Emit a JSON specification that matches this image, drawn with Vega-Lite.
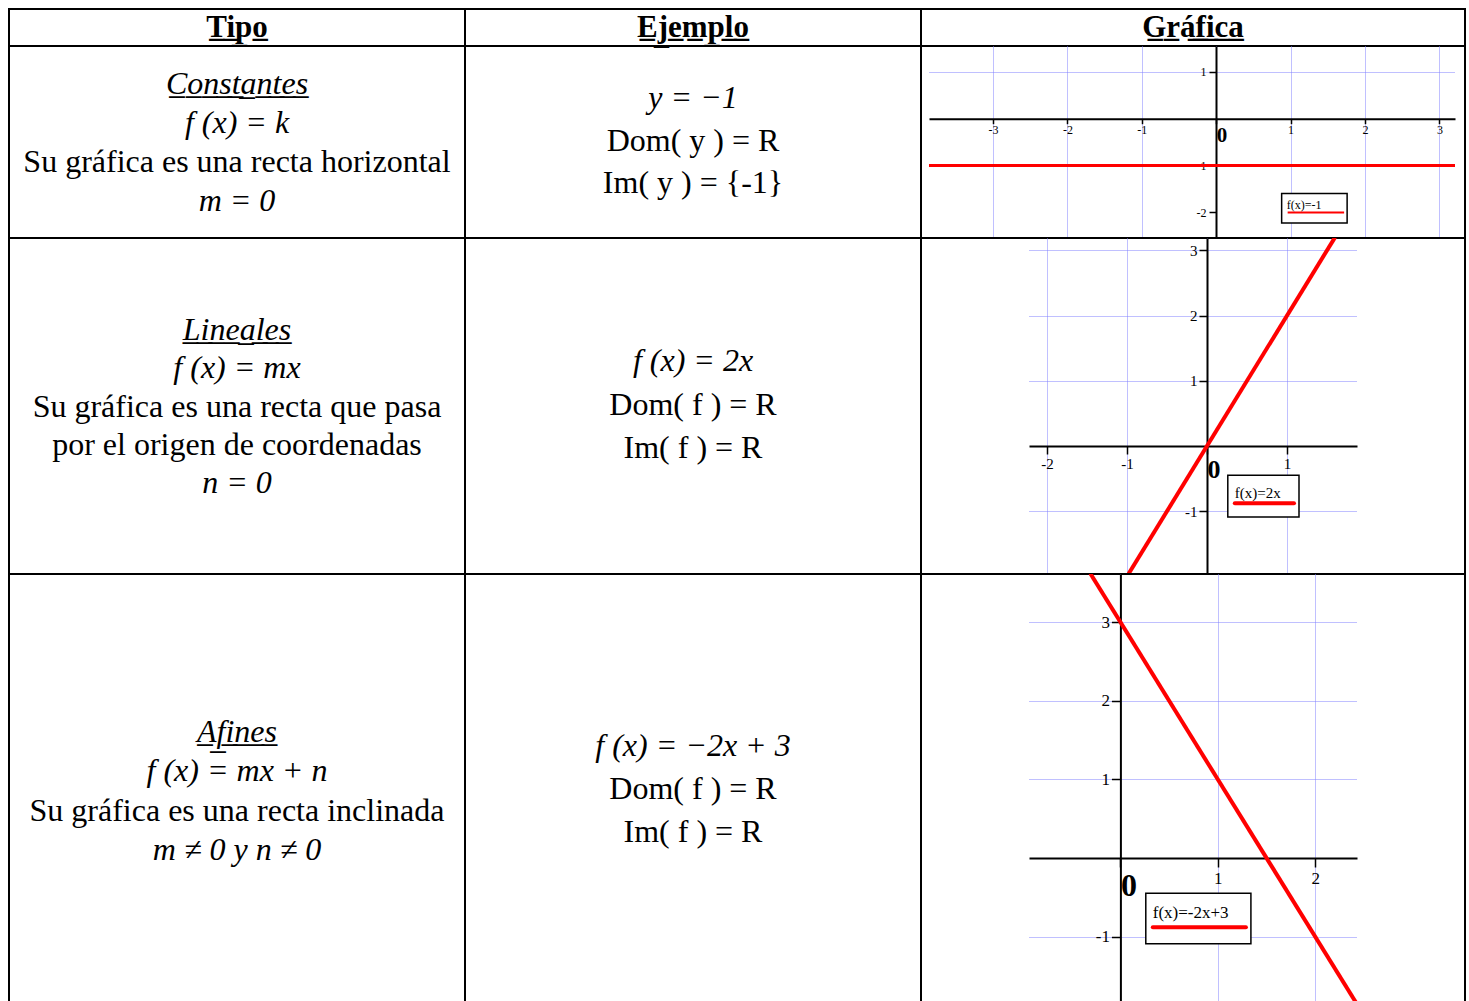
{
  "$schema": "https://vega.github.io/schema/vega-lite/v6.json",
  "background": "white",
  "padding": {"left": 8, "top": 8, "right": 0, "bottom": 0},
  "spacing": 0,
  "bounds": "flush",
  "align": "each",
  "columns": 3,
  "config": {"view": {"stroke": "black", "strokeWidth": 2}, "concat": {"spacing": 0}},
  "datasets": {
    "cells": [
      {"cell": "h1", "line": 0, "role": "title", "text": "T\u0332i\u0332p\u0332o\u0332"},
      {"cell": "h2", "line": 0, "role": "title", "text": "E\u0332j\u0332e\u0332m\u0332p\u0332l\u0332o\u0332"},
      {"cell": "h3", "line": 0, "role": "title", "text": "G\u0332r\u0332\u00e1\u0332f\u0332i\u0332c\u0332a\u0332"},
      {"cell": "r1c1", "line": 0, "role": "heading", "text": "C\u0332o\u0332n\u0332s\u0332t\u0332a\u0332n\u0332t\u0332e\u0332s\u0332"},
      {"cell": "r1c1", "line": 1, "role": "formula", "text": "f (x) = k"},
      {"cell": "r1c1", "line": 2, "role": "prose", "text": "Su gráfica es una recta horizontal"},
      {"cell": "r1c1", "line": 3, "role": "formula", "text": "m = 0"},
      {"cell": "r1c2", "line": 0, "role": "formula", "text": "y = −1"},
      {"cell": "r1c2", "line": 1, "role": "prose", "text": "Dom( y ) = R"},
      {"cell": "r1c2", "line": 2, "role": "prose", "text": "Im( y )  = {-1}"},
      {"cell": "r2c1", "line": 0, "role": "heading", "text": "L\u0332i\u0332n\u0332e\u0332a\u0332l\u0332e\u0332s\u0332"},
      {"cell": "r2c1", "line": 1, "role": "formula", "text": "f (x) = mx"},
      {"cell": "r2c1", "line": 2, "role": "prose", "text": "Su gráfica es una recta que pasa"},
      {"cell": "r2c1", "line": 3, "role": "prose", "text": "por el origen de coordenadas"},
      {"cell": "r2c1", "line": 4, "role": "formula", "text": "n = 0"},
      {"cell": "r2c2", "line": 0, "role": "formula", "text": "f (x) = 2x"},
      {"cell": "r2c2", "line": 1, "role": "prose", "text": "Dom( f ) = R"},
      {"cell": "r2c2", "line": 2, "role": "prose", "text": "Im( f )  = R"},
      {"cell": "r3c1", "line": 0, "role": "heading", "text": "A\u0332f\u0332i\u0332n\u0332e\u0332s\u0332"},
      {"cell": "r3c1", "line": 1, "role": "formula", "text": "f (x) = mx + n"},
      {"cell": "r3c1", "line": 2, "role": "prose", "text": "Su gráfica es una recta inclinada"},
      {"cell": "r3c1", "line": 3, "role": "formula", "text": "m ≠ 0  y  n ≠ 0"},
      {"cell": "r3c2", "line": 0, "role": "formula", "text": "f (x) = −2x + 3"},
      {"cell": "r3c2", "line": 1, "role": "prose", "text": "Dom( f ) = R"},
      {"cell": "r3c2", "line": 2, "role": "prose", "text": "Im( f )  = R"}
    ],
    "lines": [
      {"graph": 1, "x": -3.86, "y": -1},
      {"graph": 1, "x": 3.21, "y": -1},
      {"graph": 2, "x": -0.98, "y": -1.96},
      {"graph": 2, "x": 1.6, "y": 3.2},
      {"graph": 3, "x": -0.31, "y": 3.62},
      {"graph": 3, "x": 2.43, "y": -1.86}
    ],
    "notes": [
      {"graph": 1, "x1": 0.88, "x2": 1.76, "y1": -1.6, "y2": -2.23, "label": "f(x)=-1"},
      {"graph": 2, "x1": 0.26, "x2": 1.15, "y1": -0.45, "y2": -1.09, "label": "f(x)=2x"},
      {"graph": 3, "x1": 0.26, "x2": 1.34, "y1": -0.45, "y2": -1.09, "label": "f(x)=-2x+3"}
    ]
  },
  "concat": [
    {"width": 456, "height": 37, "data": {"name": "cells"}, "transform": [{"filter": "datum.cell === 'h1'"}],
     "mark": {"type": "text", "font": "Liberation Serif", "fontSize": 31, "fontWeight": "bold", "baseline": "middle"},
     "encoding": {"y": {"field": "line", "type": "ordinal", "scale": {"type": "point", "range": [19, 19], "padding": 0}, "axis": null}, "text": {"field": "text"}}},
    {"width": 456, "height": 37, "data": {"name": "cells"}, "transform": [{"filter": "datum.cell === 'h2'"}],
     "mark": {"type": "text", "font": "Liberation Serif", "fontSize": 31, "fontWeight": "bold", "baseline": "middle"},
     "encoding": {"y": {"field": "line", "type": "ordinal", "scale": {"type": "point", "range": [19, 19], "padding": 0}, "axis": null}, "text": {"field": "text"}}},
    {"width": 544, "height": 37, "data": {"name": "cells"}, "transform": [{"filter": "datum.cell === 'h3'"}],
     "mark": {"type": "text", "font": "Liberation Serif", "fontSize": 31, "fontWeight": "bold", "baseline": "middle"},
     "encoding": {"y": {"field": "line", "type": "ordinal", "scale": {"type": "point", "range": [19, 19], "padding": 0}, "axis": null}, "text": {"field": "text"}}},

    {"width": 456, "height": 192, "data": {"name": "cells"}, "transform": [{"filter": "datum.cell === 'r1c1'"}],
     "encoding": {"y": {"field": "line", "type": "ordinal", "scale": {"type": "point", "range": [38, 155], "padding": 0}, "axis": null}, "text": {"field": "text"}},
     "layer": [
       {"transform": [{"filter": "datum.role !== 'prose'"}], "mark": {"type": "text", "font": "Liberation Serif", "fontSize": 32, "fontStyle": "italic", "baseline": "middle"}},
       {"transform": [{"filter": "datum.role === 'prose'"}], "mark": {"type": "text", "font": "Liberation Serif", "fontSize": 32, "baseline": "middle"}}
     ]},
    {"width": 456, "height": 192, "data": {"name": "cells"}, "transform": [{"filter": "datum.cell === 'r1c2'"}],
     "encoding": {"y": {"field": "line", "type": "ordinal", "scale": {"type": "point", "range": [52, 137], "padding": 0}, "axis": null}, "text": {"field": "text"}},
     "layer": [
       {"transform": [{"filter": "datum.role !== 'prose'"}], "mark": {"type": "text", "font": "Liberation Serif", "fontSize": 32, "fontStyle": "italic", "baseline": "middle"}},
       {"transform": [{"filter": "datum.role === 'prose'"}], "mark": {"type": "text", "font": "Liberation Serif", "fontSize": 32, "baseline": "middle"}}
     ]},
    {"width": 544, "height": 192,
     "layer": [
       {"data": {"name": "lines"}, "transform": [{"filter": "datum.graph === 1"}],
        "mark": {"type": "line", "color": "#ff0000", "strokeWidth": 3, "clip": true},
        "encoding": {
          "x": {"field": "x", "type": "quantitative",
                "scale": {"domain": [-3.86, 3.21], "range": [8, 534], "nice": false, "zero": false},
                "axis": {"values": [-3, -2, -1, 0, 1, 2, 3], "offset": -119.3, "title": null,
                         "domainColor": "black", "domainWidth": 2, "tickColor": "black", "tickWidth": 1.5, "tickSize": 5,
                         "labelFont": "Liberation Serif", "labelColor": "black", "labelPadding": 1,
                         "labelFontSize": {"condition": {"test": "datum.value === 0", "value": 21}, "value": 12},
                         "labelFontWeight": {"condition": {"test": "datum.value === 0", "value": "bold"}, "value": "normal"},
                         "labelAlign": {"condition": {"test": "datum.value === 0", "value": "left"}, "value": "center"},
                         "labelExpr": "'' + datum.value", "labelOverlap": false, "labelBound": false, "labelFlush": false,
                         "grid": true, "gridColor": "#8080ff", "gridDash": [1, 1], "gridWidth": 1}},
          "y": {"field": "y", "type": "quantitative",
                "scale": {"domain": [-2.55, 1.553], "nice": false, "zero": false},
                "axis": {"values": [-2, -1, 1], "offset": -295, "title": null,
                         "domainColor": "black", "domainWidth": 2, "tickColor": "black", "tickWidth": 1.5, "tickSize": 7,
                         "labelFont": "Liberation Serif", "labelColor": "black", "labelPadding": 3, "labelFontSize": 12,
                         "labelExpr": "'' + datum.value", "labelOverlap": false, "labelBound": false, "labelFlush": false,
                         "grid": true, "gridColor": "#8080ff", "gridDash": [1, 1], "gridWidth": 1,
                         "gridOpacity": {"condition": {"test": "datum.value === -2", "value": 0}, "value": 1}}}
        }},
       {"data": {"name": "notes"}, "transform": [{"filter": "datum.graph === 1"}],
        "mark": {"type": "rect", "fill": "white", "stroke": "black", "strokeWidth": 1.5},
        "encoding": {"x": {"field": "x1", "type": "quantitative"}, "x2": {"field": "x2"}, "y": {"field": "y1", "type": "quantitative"}, "y2": {"field": "y2"}}},
       {"data": {"name": "notes"}, "transform": [{"filter": "datum.graph === 1"}],
        "mark": {"type": "text", "font": "Liberation Serif", "fontSize": 12, "align": "left", "baseline": "middle", "dx": 5, "dy": 11},
        "encoding": {"x": {"field": "x1", "type": "quantitative"}, "y": {"field": "y1", "type": "quantitative"}, "text": {"field": "label"}}},
       {"data": {"name": "notes"}, "transform": [{"filter": "datum.graph === 1"}],
        "mark": {"type": "rule", "color": "#ff0000", "strokeWidth": 2, "xOffset": 6, "x2Offset": -3, "yOffset": 19},
        "encoding": {"x": {"field": "x1", "type": "quantitative"}, "x2": {"field": "x2"}, "y": {"field": "y1", "type": "quantitative"}}}
     ]},

    {"width": 456, "height": 336, "data": {"name": "cells"}, "transform": [{"filter": "datum.cell === 'r2c1'"}],
     "encoding": {"y": {"field": "line", "type": "ordinal", "scale": {"type": "point", "range": [92, 245], "padding": 0}, "axis": null}, "text": {"field": "text"}},
     "layer": [
       {"transform": [{"filter": "datum.role !== 'prose'"}], "mark": {"type": "text", "font": "Liberation Serif", "fontSize": 32, "fontStyle": "italic", "baseline": "middle"}},
       {"transform": [{"filter": "datum.role === 'prose'"}], "mark": {"type": "text", "font": "Liberation Serif", "fontSize": 32, "baseline": "middle"}}
     ]},
    {"width": 456, "height": 336, "data": {"name": "cells"}, "transform": [{"filter": "datum.cell === 'r2c2'"}],
     "encoding": {"y": {"field": "line", "type": "ordinal", "scale": {"type": "point", "range": [123, 210], "padding": 0}, "axis": null}, "text": {"field": "text"}},
     "layer": [
       {"transform": [{"filter": "datum.role !== 'prose'"}], "mark": {"type": "text", "font": "Liberation Serif", "fontSize": 32, "fontStyle": "italic", "baseline": "middle"}},
       {"transform": [{"filter": "datum.role === 'prose'"}], "mark": {"type": "text", "font": "Liberation Serif", "fontSize": 32, "baseline": "middle"}}
     ]},
    {"width": 544, "height": 336,
     "layer": [
       {"data": {"name": "lines"}, "transform": [{"filter": "datum.graph === 2"}],
        "mark": {"type": "line", "color": "#ff0000", "strokeWidth": 4, "clip": true},
        "encoding": {
          "x": {"field": "x", "type": "quantitative",
                "scale": {"domain": [-2.225, 1.875], "range": [108, 436], "nice": false, "zero": false},
                "axis": {"values": [-2, -1, 0, 1], "offset": -128, "title": null,
                         "domainColor": "black", "domainWidth": 2, "tickColor": "black", "tickWidth": 1.5, "tickSize": 8,
                         "labelFont": "Liberation Serif", "labelColor": "black", "labelPadding": 2,
                         "labelFontSize": {"condition": {"test": "datum.value === 0", "value": 26}, "value": 15},
                         "labelFontWeight": {"condition": {"test": "datum.value === 0", "value": "bold"}, "value": "normal"},
                         "labelAlign": {"condition": {"test": "datum.value === 0", "value": "left"}, "value": "center"},
                         "labelExpr": "'' + datum.value", "labelOverlap": false, "labelBound": false, "labelFlush": false,
                         "grid": true, "gridColor": "#8080ff", "gridDash": [1, 1], "gridWidth": 1}},
          "y": {"field": "y", "type": "quantitative",
                "scale": {"domain": [-1.963, 3.19], "nice": false, "zero": false},
                "axis": {"values": [-1, 1, 2, 3], "offset": -286, "title": null,
                         "domainColor": "black", "domainWidth": 2, "tickColor": "black", "tickWidth": 1.5, "tickSize": 8,
                         "labelFont": "Liberation Serif", "labelColor": "black", "labelPadding": 2, "labelFontSize": 15,
                         "labelExpr": "'' + datum.value", "labelOverlap": false, "labelBound": false, "labelFlush": false,
                         "grid": true, "gridColor": "#8080ff", "gridDash": [1, 1], "gridWidth": 1}}
        }},
       {"data": {"name": "notes"}, "transform": [{"filter": "datum.graph === 2"}],
        "mark": {"type": "rect", "fill": "white", "stroke": "black", "strokeWidth": 1.5},
        "encoding": {"x": {"field": "x1", "type": "quantitative"}, "x2": {"field": "x2"}, "y": {"field": "y1", "type": "quantitative"}, "y2": {"field": "y2"}}},
       {"data": {"name": "notes"}, "transform": [{"filter": "datum.graph === 2"}],
        "mark": {"type": "text", "font": "Liberation Serif", "fontSize": 15, "align": "left", "baseline": "middle", "dx": 7, "dy": 18},
        "encoding": {"x": {"field": "x1", "type": "quantitative"}, "y": {"field": "y1", "type": "quantitative"}, "text": {"field": "label"}}},
       {"data": {"name": "notes"}, "transform": [{"filter": "datum.graph === 2"}],
        "mark": {"type": "rule", "color": "#ff0000", "strokeWidth": 4, "strokeCap": "round", "xOffset": 7, "x2Offset": -5, "yOffset": 28},
        "encoding": {"x": {"field": "x1", "type": "quantitative"}, "x2": {"field": "x2"}, "y": {"field": "y1", "type": "quantitative"}}}
     ]},

    {"width": 456, "height": 429, "data": {"name": "cells"}, "transform": [{"filter": "datum.cell === 'r3c1'"}],
     "encoding": {"y": {"field": "line", "type": "ordinal", "scale": {"type": "point", "range": [158, 276], "padding": 0}, "axis": null}, "text": {"field": "text"}},
     "layer": [
       {"transform": [{"filter": "datum.role !== 'prose'"}], "mark": {"type": "text", "font": "Liberation Serif", "fontSize": 32, "fontStyle": "italic", "baseline": "middle"}},
       {"transform": [{"filter": "datum.role === 'prose'"}], "mark": {"type": "text", "font": "Liberation Serif", "fontSize": 32, "baseline": "middle"}}
     ]},
    {"width": 456, "height": 429, "data": {"name": "cells"}, "transform": [{"filter": "datum.cell === 'r3c2'"}],
     "encoding": {"y": {"field": "line", "type": "ordinal", "scale": {"type": "point", "range": [172, 258], "padding": 0}, "axis": null}, "text": {"field": "text"}},
     "layer": [
       {"transform": [{"filter": "datum.role !== 'prose'"}], "mark": {"type": "text", "font": "Liberation Serif", "fontSize": 32, "fontStyle": "italic", "baseline": "middle"}},
       {"transform": [{"filter": "datum.role === 'prose'"}], "mark": {"type": "text", "font": "Liberation Serif", "fontSize": 32, "baseline": "middle"}}
     ]},
    {"width": 544, "height": 429,
     "layer": [
       {"data": {"name": "lines"}, "transform": [{"filter": "datum.graph === 3"}],
        "mark": {"type": "line", "color": "#ff0000", "strokeWidth": 4, "clip": true},
        "encoding": {
          "x": {"field": "x", "type": "quantitative",
                "scale": {"domain": [-0.94, 2.43], "range": [108, 436], "nice": false, "zero": false},
                "axis": {"values": [0, 1, 2], "offset": -145, "title": null,
                         "domainColor": "black", "domainWidth": 2, "tickColor": "black", "tickWidth": 1.5, "tickSize": 9,
                         "labelFont": "Liberation Serif", "labelColor": "black", "labelPadding": 3,
                         "labelFontSize": {"condition": {"test": "datum.value === 0", "value": 32}, "value": 17},
                         "labelFontWeight": {"condition": {"test": "datum.value === 0", "value": "bold"}, "value": "normal"},
                         "labelAlign": {"condition": {"test": "datum.value === 0", "value": "left"}, "value": "center"},
                         "labelExpr": "'' + datum.value", "labelOverlap": false, "labelBound": false, "labelFlush": false,
                         "grid": true, "gridColor": "#8080ff", "gridDash": [1, 1], "gridWidth": 1}},
          "y": {"field": "y", "type": "quantitative",
                "scale": {"domain": [-1.845, 3.613], "nice": false, "zero": false},
                "axis": {"values": [-1, 1, 2, 3], "offset": -199.4, "title": null,
                         "domainColor": "black", "domainWidth": 2, "tickColor": "black", "tickWidth": 1.5, "tickSize": 9,
                         "labelFont": "Liberation Serif", "labelColor": "black", "labelPadding": 2, "labelFontSize": 17,
                         "labelExpr": "'' + datum.value", "labelOverlap": false, "labelBound": false, "labelFlush": false,
                         "grid": true, "gridColor": "#8080ff", "gridDash": [1, 1], "gridWidth": 1}}
        }},
       {"data": {"name": "notes"}, "transform": [{"filter": "datum.graph === 3"}],
        "mark": {"type": "rect", "fill": "white", "stroke": "black", "strokeWidth": 1.5},
        "encoding": {"x": {"field": "x1", "type": "quantitative"}, "x2": {"field": "x2"}, "y": {"field": "y1", "type": "quantitative"}, "y2": {"field": "y2"}}},
       {"data": {"name": "notes"}, "transform": [{"filter": "datum.graph === 3"}],
        "mark": {"type": "text", "font": "Liberation Serif", "fontSize": 17, "align": "left", "baseline": "middle", "dx": 7, "dy": 20},
        "encoding": {"x": {"field": "x1", "type": "quantitative"}, "y": {"field": "y1", "type": "quantitative"}, "text": {"field": "label"}}},
       {"data": {"name": "notes"}, "transform": [{"filter": "datum.graph === 3"}],
        "mark": {"type": "rule", "color": "#ff0000", "strokeWidth": 4, "strokeCap": "round", "xOffset": 7, "x2Offset": -5, "yOffset": 34},
        "encoding": {"x": {"field": "x1", "type": "quantitative"}, "x2": {"field": "x2"}, "y": {"field": "y1", "type": "quantitative"}}}
     ]}
  ]
}
